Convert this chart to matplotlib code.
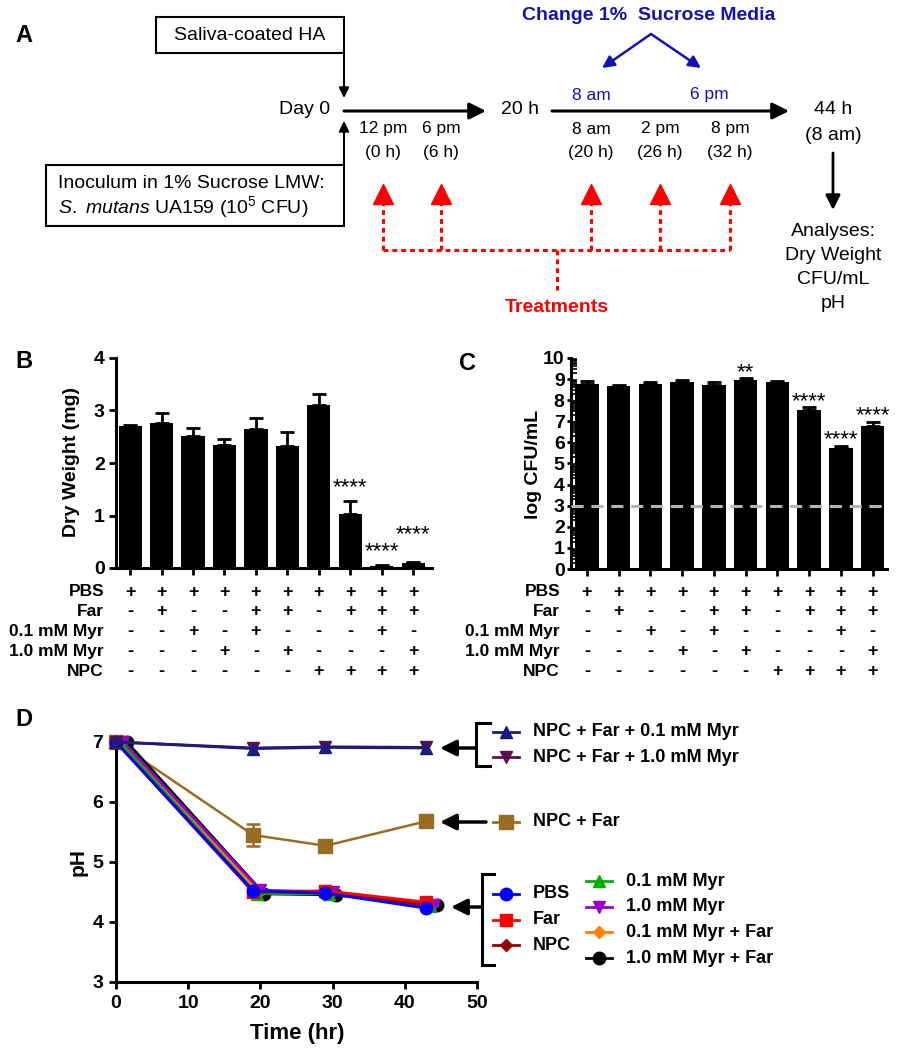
# Biofilm treatment figure: experimental timeline (A), dry weight (B),
# viable counts (C) and pH over time (D)

import numpy as np
import matplotlib
matplotlib.use('agg')
import matplotlib.pyplot as plt
from matplotlib.patches import Rectangle
from matplotlib import transforms

plt.rcParams['font.family'] = ['Liberation Sans', 'DejaVu Sans']
plt.rcParams['mathtext.fontset'] = 'custom'
plt.rcParams['mathtext.rm'] = 'Liberation Sans'
plt.rcParams['mathtext.it'] = 'Liberation Sans:italic'

W, H = 901, 1050

# ---- data: panels B and C ----
dry_weight = [2.70, 2.77, 2.52, 2.34, 2.65, 2.32, 3.11, 1.03, 0.04, 0.09]
dry_weight_err = [0.03, 0.18, 0.14, 0.12, 0.21, 0.27, 0.20, 0.24, 0.02, 0.02]
dry_weight_stars = ['', '', '', '', '', '', '', '****', '****', '****']
dry_weight_star_y = [0, 0, 0, 0, 0, 0, 0, 1.43, 0.21, 0.53]

log_cfu = [8.78, 8.69, 8.77, 8.86, 8.74, 8.97, 8.86, 7.55, 5.73, 6.76]
log_cfu_err = [0.15, 0.05, 0.09, 0.11, 0.11, 0.08, 0.03, 0.13, 0.10, 0.21]
log_cfu_stars = ['', '', '', '', '', '**', '', '****', '****', '****']
log_cfu_star_y = [0, 0, 0, 0, 0, 9.05, 0, 7.68, 5.85, 7.00]
detection_limit = 3

row_labels = ['PBS', 'Far', '0.1 mM Myr', '1.0 mM Myr', 'NPC']
table_rows = ['++++++++++',
              '-+--++-+++',
              '--+-+---+-',
              '---+-+---+',
              '------++++']

# ---- data: panel D ----
t_pbs = [0, 19, 29, 43]
ph_pbs = [7.0, 4.52, 4.48, 4.23]
t_far = [0, 19, 29, 43]
ph_far = [7.0, 4.50, 4.52, 4.33]
t_npc = [0, 19, 29, 43]
ph_npc = [7.0, 4.50, 4.50, 4.28]
t_myr01 = [0.5, 19.5, 29.5, 43.5]
ph_myr01 = [7.0, 4.47, 4.47, 4.27]
t_myr10 = [1.0, 20, 30, 44]
ph_myr10 = [7.0, 4.53, 4.50, 4.29]
t_myr01_far = [0.8, 19.8, 29.8, 43.8]
ph_myr01_far = [7.0, 4.50, 4.48, 4.28]
t_myr10_far = [1.5, 20.5, 30.5, 44.5]
ph_myr10_far = [7.0, 4.47, 4.45, 4.28]
t_npc_far = [0, 19, 29, 43]
ph_npc_far = [7.0, 5.45, 5.27, 5.68]
ph_npc_far_err = [0, 0.19, 0.03, 0.03]
t_npc_far_myr01 = [0, 19, 29, 43]
ph_npc_far_myr01 = [7.0, 6.89, 6.91, 6.90]
t_npc_far_myr10 = [0, 19, 29, 43]
ph_npc_far_myr10 = [7.0, 6.90, 6.92, 6.91]

fig = plt.figure(figsize=(W / 100, H / 100), dpi=100)

# overlay axes in pixel coordinates for the diagram and annotations
ov = fig.add_axes([0, 0, 1, 1])
ov.set_xlim(0, W)
ov.set_ylim(H, 0)
ov.axis('off')
ov.set_zorder(10)


def px_axes(x0, y0, x1, y1):
    return fig.add_axes([x0 / W, 1 - y1 / H, (x1 - x0) / W, (y1 - y0) / H])


def arrow(x0, y0, x1, y1, color='black', lw=2.2, ms=25):
    ov.annotate('', xy=(x1, y1), xytext=(x0, y0),
                arrowprops=dict(arrowstyle='-|>', color=color, lw=lw,
                                mutation_scale=ms, shrinkA=0, shrinkB=0))


# ================= panel A =================
blue = '#1212b4'
red = '#ff0000'
ov.text(15, 35, 'A', fontsize=17, fontweight='bold', va='center')

ov.add_patch(Rectangle((156, 17), 188, 36, fill=False, lw=1.5, ec='black'))
ov.text(250, 36, 'Saliva-coated HA', fontsize=14, ha='center', va='center')
arrow(344, 53, 344, 98, lw=1.5, ms=15)

ov.add_patch(Rectangle((46, 165), 298, 61, fill=False, lw=1.5, ec='black'))
ov.text(58, 184, 'Inoculum in 1% Sucrose LMW:', fontsize=14, va='center')
ov.text(58, 207, r'$\it{S.\ mutans}$ UA159 (10$^{5}$ CFU)', fontsize=14, va='center')
arrow(344, 165, 344, 121, lw=1.5, ms=15)

ov.text(330, 110, 'Day 0', fontsize=14, ha='right', va='center')
arrow(344, 111, 486, 111)
ov.text(520, 110, '20 h', fontsize=14, ha='center', va='center')
arrow(552, 111, 789, 111)
ov.text(833, 110, '44 h', fontsize=14, ha='center', va='center')
ov.text(833, 135, '(8 am)', fontsize=14, ha='center', va='center')
arrow(833, 153, 833, 210, lw=2, ms=22)
for i, s in enumerate(['Analyses:', 'Dry Weight', 'CFU/mL', 'pH']):
    ov.text(833, 232 + i * 23.7, s, fontsize=14, ha='center', va='center')

time_x = [383, 441, 591, 660, 730]
time_top = ['12 pm', '6 pm', '8 am', '2 pm', '8 pm']
time_bottom = ['(0 h)', '(6 h)', '(20 h)', '(26 h)', '(32 h)']
for x, a, b in zip(time_x, time_top, time_bottom):
    ov.text(x, 129, a, fontsize=12.5, ha='center', va='center')
    ov.text(x, 152, b, fontsize=12.5, ha='center', va='center')

ov.text(649, 15, 'Change 1%  Sucrose Media', fontsize=14, fontweight='bold',
        color=blue, ha='center', va='center')
arrow(651, 34, 602, 68, color=blue, lw=1.8, ms=18)
arrow(651, 34, 701, 68, color=blue, lw=1.8, ms=18)
ov.text(591, 95, '8 am', fontsize=12.5, color=blue, ha='center', va='center')
ov.text(709, 95, '6 pm', fontsize=12.5, color=blue, ha='center', va='center')

dots = (0, (1.6, 1.3))
ov.plot([383, 730], [250, 250], color=red, lw=2.2, ls=dots)
for x in time_x:
    ov.plot([x, x], [250, 202], color=red, lw=2.2, ls=dots)
    ov.plot(x, 194, marker='^', ms=14, color=red, mec=red)
ov.plot([557, 557], [250, 290], color=red, lw=2.2, ls=dots)
ov.text(557, 308, 'Treatments', fontsize=14, fontweight='bold', color=red,
        ha='center', va='center')


# ================= panels B and C =================
def bar_panel(ax, vals, errs, stars, star_y, ylim, xlim):
    x = np.arange(len(vals))
    ax.bar(x, vals, width=0.74, color='black', zorder=2)
    ax.errorbar(x, vals, yerr=[np.zeros(len(vals)), errs], fmt='none',
                ecolor='black', elinewidth=2, capsize=5, capthick=2, zorder=1)
    for xi, s, sy in zip(x, stars, star_y):
        if s:
            ax.text(xi, sy, s, ha='center', va='baseline', fontsize=16)
    ax.set_ylim(ylim)
    ax.set_xlim(xlim)
    ax.set_xticks(x)
    ax.set_xticklabels([])
    for side in ['top', 'right']:
        ax.spines[side].set_visible(False)
    for side in ['left', 'bottom']:
        ax.spines[side].set_linewidth(2.2)
    ax.tick_params(axis='both', direction='out', length=5, width=2)
    for lab in ax.get_yticklabels():
        lab.set_fontweight('bold')
        lab.set_fontsize(14)


def condition_table(ax, label_x):
    tr = transforms.blended_transform_factory(ax.transData, ov.transData)
    for r, (lab, row) in enumerate(zip(row_labels, table_rows)):
        y = 592 + r * 19.8
        ov.text(label_x, y, lab, fontsize=12.5, fontweight='bold',
                ha='right', va='center')
        for c, sign in enumerate(row):
            ax.text(c, y, sign, transform=tr, fontsize=13, fontweight='bold',
                    ha='center', va='center')


axB = px_axes(116, 358, 432, 568)
axB.set_yticks([0, 1, 2, 3, 4])
bar_panel(axB, dry_weight, dry_weight_err, dry_weight_stars, dry_weight_star_y,
          (0, 4), (-0.45, 9.6))
axB.tick_params(axis='y', pad=3)
ov.text(15, 362, 'B', fontsize=17, fontweight='bold', va='center')
ov.text(71, 462, 'Dry Weight (mg)', fontsize=14, fontweight='bold', rotation=90,
        ha='center', va='center')
condition_table(axB, 104)

axC = px_axes(571, 358, 887, 569)
axC.set_yticks(range(0, 11))
minor = [i + np.log10(k) for i in range(10) for k in range(2, 10)]
axC.set_yticks(minor, minor=True)
bar_panel(axC, log_cfu, log_cfu_err, log_cfu_stars, log_cfu_star_y,
          (0, 10), (-0.5, 9.45))
axC.tick_params(axis='y', length=3, pad=1.5)
axC.tick_params(axis='y', which='minor', direction='in', length=4, width=1.2)
axC.axhline(detection_limit, color='#b4b4b4', lw=2.2, ls=(0, (4, 2.5)), zorder=3)
ov.text(459, 363, 'C', fontsize=17, fontweight='bold', va='center')
ov.text(533, 464, 'log CFU/mL', fontsize=14, fontweight='bold', rotation=90,
        ha='center', va='center')
condition_table(axC, 560)

# ================= panel D =================
axD = px_axes(116, 742, 477, 982)
series = [
    (t_myr10_far, ph_myr10_far, 'black', 'o', 9, '1.0 mM Myr + Far'),
    (t_myr01_far, ph_myr01_far, '#ff8000', 'D', 6.5, '0.1 mM Myr + Far'),
    (t_myr10, ph_myr10, '#9900cc', 'v', 9, '1.0 mM Myr'),
    (t_myr01, ph_myr01, '#00b000', '^', 9, '0.1 mM Myr'),
    (t_npc, ph_npc, '#990000', 'D', 6.5, 'NPC'),
    (t_far, ph_far, '#ff0000', 's', 9, 'Far'),
    (t_pbs, ph_pbs, '#0000ff', 'o', 9, 'PBS'),
    (t_npc_far_myr10, ph_npc_far_myr10, '#5a1050', 'v', 9, 'NPC + Far + 1.0 mM Myr'),
    (t_npc_far_myr01, ph_npc_far_myr01, '#1c1c80', '^', 9, 'NPC + Far + 0.1 mM Myr'),
]
for t, ph, col, mk, ms, lab in series:
    axD.plot(t, ph, color=col, lw=2, marker=mk, ms=ms, mfc=col, mec=col,
             clip_on=False, zorder=3)
brown = '#9c6b22'
axD.errorbar(t_npc_far, ph_npc_far, yerr=ph_npc_far_err, color=brown, lw=1.8,
             marker='s', ms=10, mfc=brown, mec=brown, ecolor=brown,
             elinewidth=1.8, capsize=5, capthick=1.8, clip_on=False, zorder=2)
axD.set_xlim(0, 50)
axD.set_ylim(3, 7)
axD.set_xticks([0, 10, 20, 30, 40, 50])
axD.set_yticks([3, 4, 5, 6, 7])
for side in ['top', 'right']:
    axD.spines[side].set_visible(False)
for side in ['left', 'bottom']:
    axD.spines[side].set_linewidth(2.2)
axD.tick_params(axis='both', direction='out', length=5, width=2, pad=4)
for lab in axD.get_xticklabels() + axD.get_yticklabels():
    lab.set_fontweight('bold')
    lab.set_fontsize(14)
ov.text(15, 720, 'D', fontsize=17, fontweight='bold', va='center')
ov.text(78, 862, 'pH', fontsize=15, fontweight='bold', rotation=90,
        ha='center', va='center')
ov.text(297, 1034, 'Time (hr)', fontsize=16, fontweight='bold',
        ha='center', va='center')

# grouped legend with brackets and arrows
style = {lab: (col, mk, ms) for t, ph, col, mk, ms, lab in series}
style['NPC + Far'] = (brown, 's', 10)


def legend_entry(x, y, lab):
    col, mk, ms = style[lab]
    ov.plot([x - 13, x + 13], [y, y], color=col, lw=2)
    ov.plot(x, y, marker=mk, ms=ms, color=col, mec=col)
    ov.text(x + 27, y, lab, fontsize=13, fontweight='bold', va='center')


def bracket(x, y0, y1, tick):
    ov.plot([x + tick, x, x, x + tick], [y0, y0, y1, y1], color='black', lw=2.2,
            solid_joinstyle='miter')


bracket(476, 723, 766, 14)
arrow(476, 748, 440, 748, lw=2.5, ms=24)
legend_entry(506, 732, 'NPC + Far + 0.1 mM Myr')
legend_entry(506, 757, 'NPC + Far + 1.0 mM Myr')

arrow(486, 822, 440, 822, lw=2.5, ms=24)
legend_entry(506, 822, 'NPC + Far')

bracket(482, 874, 965, 12)
arrow(482, 907, 451, 907, lw=2.5, ms=24)
for i, lab in enumerate(['PBS', 'Far', 'NPC']):
    legend_entry(506, 894 + i * 25.5, lab)
for i, lab in enumerate(['0.1 mM Myr', '1.0 mM Myr', '0.1 mM Myr + Far', '1.0 mM Myr + Far']):
    legend_entry(599, 881 + i * 25.7, lab)

fig.savefig('out.png', dpi=100)
